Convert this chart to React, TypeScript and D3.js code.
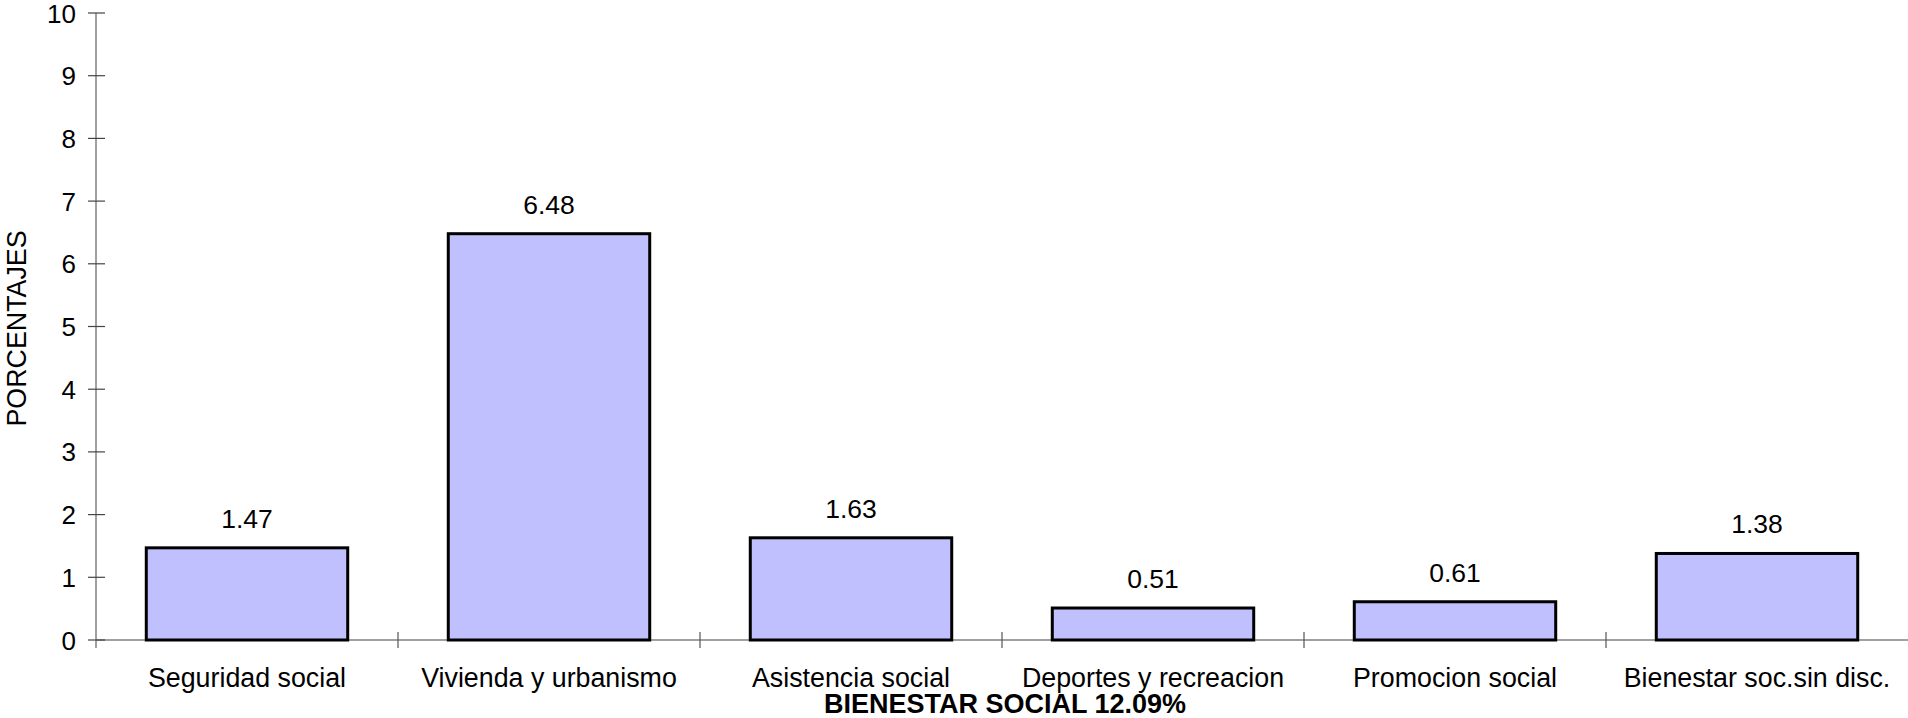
import React from "react";
import * as d3 from "d3";

const categories = [
  "Seguridad social",
  "Vivienda y urbanismo",
  "Asistencia social",
  "Deportes y recreacion",
  "Promocion social",
  "Bienestar soc.sin disc.",
];
const values = [1.47, 6.48, 1.63, 0.51, 0.61, 1.38];
const yTicks = [0, 1, 2, 3, 4, 5, 6, 7, 8, 9, 10];
const title = "BIENESTAR SOCIAL 12.09%";
const yLabel = "PORCENTAJES";

const W = 1908;
const H = 718;
const left = 96;
const right = 1908;
const top = 13;
const bottom = 640;
const font = "'Liberation Sans', Arial, sans-serif";

export default function App() {
  const x = d3.scaleBand<string>().domain(categories).range([left, right]).paddingInner(0.333).paddingOuter(0.1665);
  const band = d3.scaleBand<string>().domain(categories).range([left, right]).padding(0);
  const y = d3.scaleLinear().domain([0, 10]).range([bottom, top]);

  return (
    <svg width={W} height={H} style={{ position: "absolute", left: 0, top: 0, display: "block", background: "#fff" }}>
      {/* axes */}
      <line x1={left} x2={right} y1={bottom} y2={bottom} stroke="#808080" strokeWidth={1.5} />
      <line x1={left} x2={left} y1={y(10)} y2={bottom + 8} stroke="#808080" strokeWidth={1.5} />
      {yTicks.map((t) => (
        <g key={t}>
          <line x1={left - 8} x2={left + 9} y1={y(t)} y2={y(t)} stroke="#444" strokeWidth={1.2} />
          <text x={76} y={y(t) + 9.5} textAnchor="end" fontFamily={font} fontSize={26} fill="#000">
            {t}
          </text>
        </g>
      ))}
      {categories.map((c, i) =>
        i === 0 ? null : (
          <line key={c} x1={band(c)!} x2={band(c)!} y1={bottom - 8} y2={bottom + 8} stroke="#555" strokeWidth={1.2} />
        )
      )}
      {/* bars */}
      {categories.map((c, i) => (
        <g key={c}>
          <rect
            x={x(c)!}
            y={y(values[i])}
            width={x.bandwidth()}
            height={bottom - y(values[i])}
            fill="#C0C0FF"
            stroke="#000"
            strokeWidth={3}
          />
          <text
            x={x(c)! + x.bandwidth() / 2}
            y={y(values[i]) - 20}
            textAnchor="middle"
            fontFamily={font}
            fontSize={26.5}
            fill="#000"
          >
            {values[i].toFixed(2)}
          </text>
          <text
            x={band(c)! + band.bandwidth() / 2}
            y={687}
            textAnchor="middle"
            fontFamily={font}
            fontSize={26.8}
            fill="#000"
          >
            {c}
          </text>
        </g>
      ))}
      <text x={1005} y={713} textAnchor="middle" fontFamily={font} fontSize={27} fontWeight="bold" fill="#000">
        {title}
      </text>
      <text
        transform={`translate(26, ${(top + bottom) / 2 + 2}) rotate(-90)`}
        textAnchor="middle"
        fontFamily={font}
        fontSize={26.8}
        fill="#000"
      >
        {yLabel}
      </text>
    </svg>
  );
}
